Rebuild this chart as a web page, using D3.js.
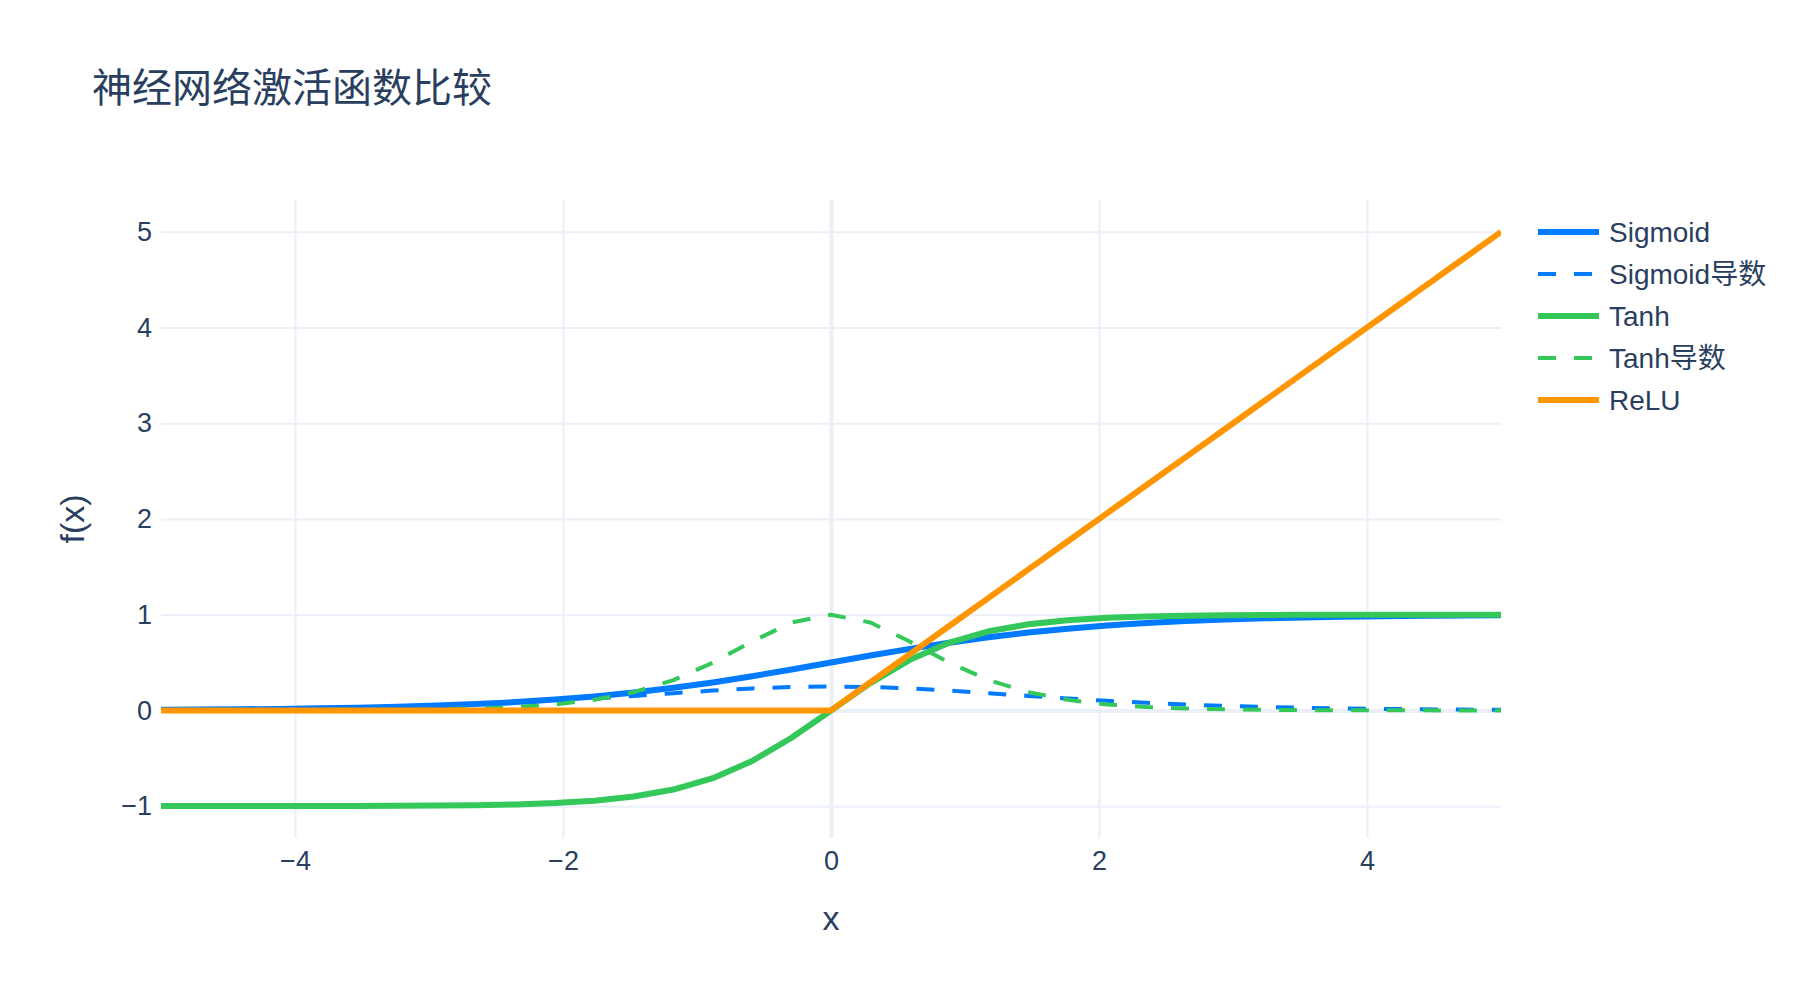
<!DOCTYPE html>
<html>
<head>
<meta charset="utf-8">
<script src="https://cdn.jsdelivr.net/npm/d3@7"></script>
<style>
  body { margin: 0; background: #fff; }
  text { font-family: "Liberation Sans", Arial, "Noto Sans CJK SC", sans-serif; fill: #2a3f5f; }
</style>
</head>
<body>
<div id="chart"></div>
<script>
// 采样点 x（-5 到 5）
const xs = [-5, -4.706, -4.412, -4.118, -3.824, -3.529, -3.235, -2.941, -2.647, -2.353, -2.059, -1.765,
  -1.471, -1.176, -0.882, -0.588, -0.294, 0, 0.294, 0.588, 0.882, 1.176, 1.471, 1.765, 2.059, 2.353,
  2.647, 2.941, 3.235, 3.529, 3.824, 4.118, 4.412, 4.706, 5]

const sigmoid = [0.0067, 0.0090, 0.0120, 0.0160, 0.0214, 0.0285, 0.0379, 0.0502, 0.0662, 0.0868, 0.1131,
  0.1462, 0.1868, 0.2358, 0.2927, 0.3571, 0.4270, 0.5, 0.5730, 0.6429, 0.7073, 0.7642, 0.8132, 0.8538,
  0.8869, 0.9132, 0.9338, 0.9498, 0.9621, 0.9715, 0.9786, 0.9840, 0.9880, 0.9910, 0.9933]

const sigmoidGrad = [0.0066, 0.0089, 0.0118, 0.0158, 0.0209, 0.0277, 0.0365, 0.0477, 0.0618, 0.0793,
  0.1003, 0.1248, 0.1519, 0.1802, 0.2070, 0.2296, 0.2447, 0.25, 0.2447, 0.2296, 0.2070, 0.1802, 0.1519,
  0.1248, 0.1003, 0.0793, 0.0618, 0.0477, 0.0365, 0.0277, 0.0209, 0.0158, 0.0118, 0.0089, 0.0066]

const tanh = [-0.9999, -0.9998, -0.9997, -0.9995, -0.9991, -0.9983, -0.9969, -0.9944, -0.9900, -0.9821,
  -0.9680, -0.9430, -0.8996, -0.8264, -0.7077, -0.5284, -0.2858, 0, 0.2858, 0.5284, 0.7077, 0.8264,
  0.8996, 0.9430, 0.9680, 0.9821, 0.9900, 0.9944, 0.9969, 0.9983, 0.9991, 0.9995, 0.9997, 0.9998, 0.9999]

const tanhGrad = [0.0002, 0.0003, 0.0006, 0.0011, 0.0019, 0.0034, 0.0062, 0.0111, 0.0199, 0.0355, 0.0630,
  0.1108, 0.1907, 0.3171, 0.4992, 0.7208, 0.9183, 1, 0.9183, 0.7208, 0.4992, 0.3171, 0.1907, 0.1108,
  0.0630, 0.0355, 0.0199, 0.0111, 0.0062, 0.0034, 0.0019, 0.0011, 0.0006, 0.0003, 0.0002]

const relu = [0, 0, 0, 0, 0, 0, 0, 0, 0, 0, 0, 0, 0, 0, 0, 0, 0, 0, 0.294, 0.588, 0.882, 1.176, 1.471,
  1.765, 2.059, 2.353, 2.647, 2.941, 3.235, 3.529, 3.824, 4.118, 4.412, 4.706, 5]

const seriesNames = ["Sigmoid", "Sigmoid导数", "Tanh", "Tanh导数", "ReLU"]
const xTicks = [-4, -2, 0, 2, 4]
const yTicks = [-1, 0, 1, 2, 3, 4, 5]

// 画布与绘图区
const W = 1800, H = 1000
const plot = { left: 161, right: 1501, top: 200, bottom: 838 }

let svg = d3.select("#chart")
    .append("svg")
    .attr("width", W)
    .attr("height", H)
    .style("background", "#fff")

let xScale = d3.scaleLinear()
    .domain([-5, 5])
    .range([plot.left, plot.right])
let yScale = d3.scaleLinear()
    .domain([-1.333, 5.333])
    .range([plot.bottom, plot.top])

// 每条线的样式
const styles = [
    { color: "#007AFF", width: 6, dash: null, data: sigmoid },
    { color: "#007AFF", width: 4, dash: "18,18", data: sigmoidGrad },
    { color: "#34C759", width: 6, dash: null, data: tanh },
    { color: "#34C759", width: 4, dash: "18,18", data: tanhGrad },
    { color: "#FF9500", width: 6, dash: null, data: relu }
]

// 网格线
svg.append("g")
    .attr("transform", `translate(0,${plot.bottom})`)
    .call(d3.axisBottom(xScale).tickValues(xTicks).tickSize(-(plot.bottom - plot.top)).tickFormat(""))
    .call(g => g.select(".domain").remove())
    .call(g => g.selectAll("line").attr("stroke", "#EBF0F8")
        .attr("stroke-width", d => d === 0 ? 4 : 2))
svg.append("g")
    .attr("transform", `translate(${plot.left},0)`)
    .call(d3.axisLeft(yScale).tickValues(yTicks).tickSize(-(plot.right - plot.left)).tickFormat(""))
    .call(g => g.select(".domain").remove())
    .call(g => g.selectAll("line").attr("stroke", "#EBF0F8")
        .attr("stroke-width", d => d === 0 ? 4 : 2))

// 坐标轴标签
svg.append("g")
    .attr("transform", `translate(0,${plot.bottom})`)
    .call(d3.axisBottom(xScale).tickValues(xTicks).tickSize(0).tickPadding(13).tickFormat(d3.format("d")))
    .call(g => g.select(".domain").remove())
    .call(g => g.selectAll("text").attr("font-size", 27).attr("font-family", null).style("fill", "#2a3f5f"))
svg.append("g")
    .attr("transform", `translate(${plot.left},0)`)
    .call(d3.axisLeft(yScale).tickValues(yTicks).tickSize(0).tickPadding(9).tickFormat(d3.format("d")))
    .call(g => g.select(".domain").remove())
    .call(g => g.selectAll("text").attr("font-size", 27).attr("font-family", null).style("fill", "#2a3f5f"))

// 曲线
svg.append("defs").append("clipPath").attr("id", "clip")
    .append("rect")
    .attr("x", plot.left).attr("y", plot.top)
    .attr("width", plot.right - plot.left).attr("height", plot.bottom - plot.top)

let line = d3.line()
    .x((d, i) => xScale(xs[i]))
    .y(d => yScale(d))

svg.append("g")
    .attr("clip-path", "url(#clip)")
    .selectAll("path")
    .data(styles)
    .enter()
    .append("path")
    .attr("d", d => line(d.data))
    .attr("fill", "none")
    .attr("stroke", d => d.color)
    .attr("stroke-width", d => d.width)
    .attr("stroke-dasharray", d => d.dash)
    .attr("stroke-linejoin", "round")

// 图例
let legend = svg.append("g")
    .selectAll("g")
    .data(styles)
    .enter()
    .append("g")
    .attr("transform", (d, i) => `translate(1538,${232 + i * 42})`)
legend.append("line")
    .attr("x1", 0).attr("x2", 61)
    .attr("stroke", d => d.color)
    .attr("stroke-width", d => d.width)
    .attr("stroke-dasharray", d => d.dash)
legend.append("text")
    .attr("x", 71)
    .attr("dy", "0.35em")
    .attr("font-size", 28)
    .text((d, i) => seriesNames[i])

// 标题
svg.append("text")
    .attr("x", 92)
    .attr("y", 102)
    .attr("font-size", 40)
    .style("font-family", '"Noto Sans CJK SC", sans-serif')
    .text("神经网络激活函数比较")

svg.append("text")
    .attr("x", xScale(0))
    .attr("y", 930)
    .attr("text-anchor", "middle")
    .attr("font-size", 34)
    .text("x")

svg.append("text")
    .attr("transform", `translate(84,${(plot.top + plot.bottom) / 2}) rotate(-90)`)
    .attr("text-anchor", "middle")
    .attr("font-size", 34)
    .text("f(x)")
</script>
</body>
</html>
